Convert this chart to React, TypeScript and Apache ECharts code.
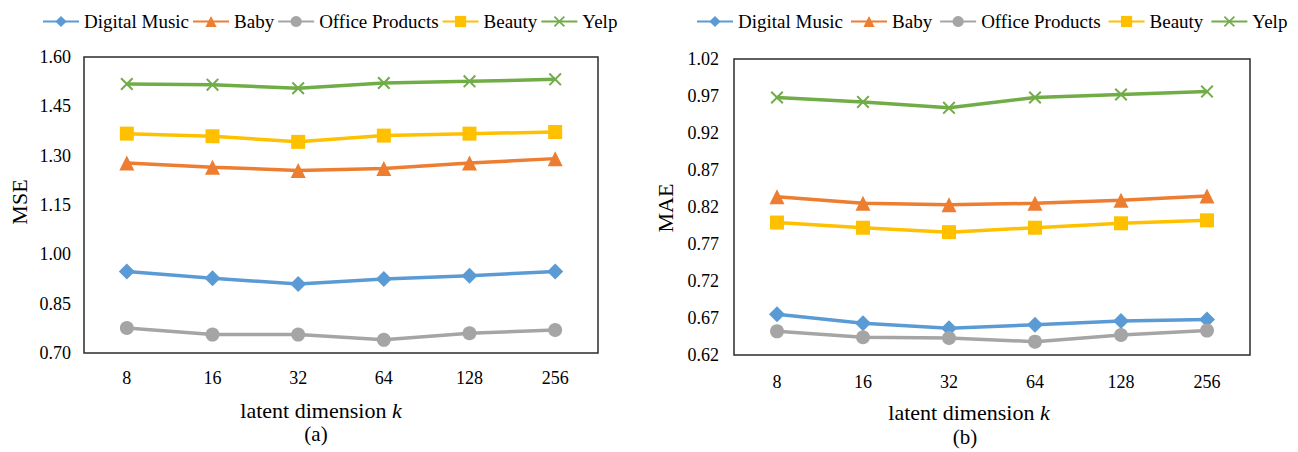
import React, { useEffect, useRef } from "react";
import * as echarts from "echarts";

// latent dimension k
const categories = ["8", "16", "32", "64", "128", "256"];
const seriesNames = ["Digital Music", "Baby", "Office Products", "Beauty", "Yelp"];

// MSE per dataset
const mseDigitalMusic = [0.948, 0.927, 0.91, 0.925, 0.935, 0.948];
const mseBaby = [1.278, 1.265, 1.255, 1.261, 1.278, 1.291];
const mseOffice = [0.776, 0.756, 0.756, 0.74, 0.76, 0.77];
const mseBeauty = [1.367, 1.359, 1.342, 1.361, 1.367, 1.372];
const mseYelp = [1.518, 1.516, 1.505, 1.521, 1.526, 1.532];

// MAE per dataset
const maeDigitalMusic = [0.675, 0.663, 0.656, 0.661, 0.666, 0.668];
const maeBaby = [0.834, 0.825, 0.823, 0.825, 0.829, 0.835];
const maeOffice = [0.652, 0.644, 0.643, 0.638, 0.647, 0.653];
const maeBeauty = [0.799, 0.792, 0.786, 0.792, 0.798, 0.802];
const maeYelp = [0.968, 0.962, 0.954, 0.968, 0.972, 0.976];

// y-axis tick labels
const mseTicks = ["0.70", "0.85", "1.00", "1.15", "1.30", "1.45", "1.60"];
const maeTicks = ["0.62", "0.67", "0.72", "0.77", "0.82", "0.87", "0.92", "0.97", "1.02"];

const FONT = "Liberation Serif";
const colors = ["#5B9BD5", "#ED7D31", "#A5A5A5", "#FFC000", "#70AD47"];
const crossPath =
  "path://M0,1.1L1.1,0L5,3.9L8.9,0L10,1.1L6.1,5L10,8.9L8.9,10L5,6.1L1.1,10L0,8.9L3.9,5Z";
const symbols = ["diamond", "triangle", "circle", "rect", crossPath];
const symbolSizes = [16, 15, 14, 14, 13];

function tickFormatter(ticks: string[]) {
  return (v: number) => {
    const s = v.toFixed(2);
    return ticks.includes(s) ? s : "";
  };
}

export default function App() {
  const ref = useRef<HTMLDivElement>(null);

  useEffect(() => {
    if (!ref.current) return;
    const chart = echarts.init(ref.current, undefined, { renderer: "svg" });

    const mse = [mseDigitalMusic, mseBaby, mseOffice, mseBeauty, mseYelp];
    const mae = [maeDigitalMusic, maeBaby, maeOffice, maeBeauty, maeYelp];

    const makeSeries = (data: number[][], axisIndex: number) =>
      data.map((d, i) => ({
        name: seriesNames[i],
        type: "line",
        xAxisIndex: axisIndex,
        yAxisIndex: axisIndex,
        data: d,
        symbol: symbols[i],
        symbolSize: symbolSizes[i],
        showAllSymbol: true,
        lineStyle: { color: colors[i], width: 3.5 },
        itemStyle: { color: colors[i] },
        emphasis: { disabled: true },
        z: 2 + i,
      }));

    const legendBase = {
      itemWidth: 36,
      itemHeight: 14,
      top: 7,
      width: 600,
      textStyle: { fontFamily: FONT, fontSize: 19, color: "#000" },
      data: seriesNames,
    };

    const xAxisBase = {
      type: "category",
      data: categories,
      boundaryGap: true,
      axisLine: { show: false },
      axisTick: { show: false },
      axisLabel: { fontFamily: FONT, fontSize: 18, color: "#000", margin: 16 },
    };

    const yLabel = { fontFamily: FONT, fontSize: 18, color: "#000" };

    const titleText = (x: number, y: number) => ({
      type: "text",
      x,
      y,
      style: {
        text: "latent dimension {i|k}",
        fontFamily: FONT,
        fontSize: 22,
        fill: "#000",
        align: "center",
        verticalAlign: "middle",
        rich: { i: { fontFamily: FONT, fontSize: 22, fontStyle: "italic", fill: "#000" } },
      },
    });

    chart.setOption({
      animation: false,
      backgroundColor: "#fff",
      textStyle: { fontFamily: FONT, color: "#000" },
      legend: [
        { ...legendBase, left: 37, itemGap: 3 },
        { ...legendBase, left: 691, itemGap: 7 },
      ],
      grid: [
        { left: 84, top: 57, width: 514, height: 296, show: true, borderColor: "#2b2b2b", borderWidth: 1.5, backgroundColor: "transparent" },
        { left: 734, top: 59, width: 516, height: 296, show: true, borderColor: "#2b2b2b", borderWidth: 1.5, backgroundColor: "transparent" },
      ],
      xAxis: [
        { ...xAxisBase, gridIndex: 0 },
        { ...xAxisBase, gridIndex: 1, axisLabel: { ...xAxisBase.axisLabel, margin: 18 } },
      ],
      yAxis: [
        {
          type: "value",
          gridIndex: 0,
          min: 0.7,
          max: 1.6,
          interval: 0.05,
          axisLine: { show: false },
          axisTick: { show: false },
          splitLine: { show: false },
          axisLabel: { ...yLabel, margin: 13, formatter: tickFormatter(mseTicks) },
        },
        {
          type: "value",
          gridIndex: 1,
          min: 0.62,
          max: 1.02,
          interval: 0.01,
          axisLine: { show: false },
          axisTick: { show: false },
          splitLine: { show: false },
          axisLabel: { ...yLabel, margin: 15, formatter: tickFormatter(maeTicks) },
        },
      ],
      graphic: [
        {
          type: "text",
          x: 19,
          y: 202,
          rotation: Math.PI / 2,
          style: { text: "MSE", fontFamily: FONT, fontSize: 22, fill: "#000", align: "center", verticalAlign: "middle" },
        },
        {
          type: "text",
          x: 665,
          y: 208,
          rotation: Math.PI / 2,
          style: { text: "MAE", fontFamily: FONT, fontSize: 22, fill: "#000", align: "center", verticalAlign: "middle" },
        },
        titleText(321, 410),
        titleText(969, 412),
        {
          type: "text",
          x: 316,
          y: 434,
          style: { text: "(a)", fontFamily: FONT, fontSize: 21, fill: "#000", align: "center", verticalAlign: "middle" },
        },
        {
          type: "text",
          x: 965,
          y: 437,
          style: { text: "(b)", fontFamily: FONT, fontSize: 21, fill: "#000", align: "center", verticalAlign: "middle" },
        },
      ],
      series: [...makeSeries(mse, 0), ...makeSeries(mae, 1)],
    });

    return () => chart.dispose();
  }, []);

  return (
    <div
      ref={ref}
      style={{ position: "fixed", left: 0, top: 0, width: 1298, height: 452, background: "#fff" }}
    />
  );
}
